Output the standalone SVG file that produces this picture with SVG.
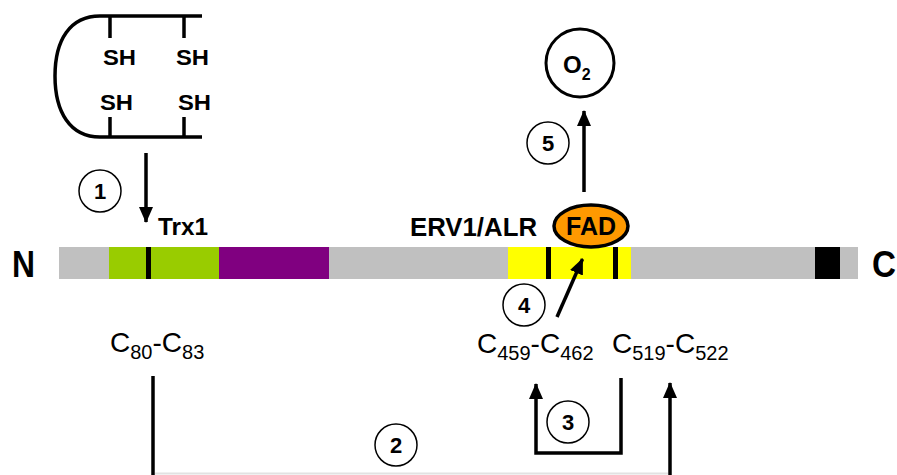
<svg xmlns="http://www.w3.org/2000/svg" width="897" height="475" viewBox="0 0 897 475">
<defs>
<style>
.t{font-family:"Liberation Sans",Arial,sans-serif;fill:#000}
.b{font-weight:bold}
.ln{stroke:#000;stroke-width:3.5;fill:none}
.num{fill:#fff;stroke:#000;stroke-width:1.5}
.nt{font-family:"Liberation Sans",Arial,sans-serif;font-weight:bold;font-size:22px;text-anchor:middle}
.sh{font-family:"Liberation Sans",Arial,sans-serif;font-weight:bold;font-size:22px}
.c{font-family:"Liberation Sans",Arial,sans-serif;font-size:28px}
.s{font-size:20px}
</style>
<marker id="ah" markerUnits="userSpaceOnUse" markerWidth="16" markerHeight="14" refX="15" refY="7" orient="auto">
<path d="M0,0 L16,7 L0,14 z" fill="#000"/>
</marker>
</defs>
<rect width="897" height="475" fill="#fff"/>

<g id="substrate">
<path class="ln" d="M202,16 H100 C70,16 55,40 55,76 C55,112 70,137 100,137 H202"/>
<line class="ln" x1="110" y1="16" x2="110" y2="38"/>
<line class="ln" x1="184" y1="16" x2="184" y2="38"/>
<line class="ln" x1="110" y1="117" x2="110" y2="137"/>
<line class="ln" x1="184" y1="117" x2="184" y2="137"/>
<text class="sh" x="103" y="65" textLength="33" lengthAdjust="spacingAndGlyphs">SH</text>
<text class="sh" x="176" y="65" textLength="33" lengthAdjust="spacingAndGlyphs">SH</text>
<text class="sh" x="100" y="110" textLength="33" lengthAdjust="spacingAndGlyphs">SH</text>
<text class="sh" x="178" y="110" textLength="33" lengthAdjust="spacingAndGlyphs">SH</text>
</g>

<g id="protein">
<rect x="59" y="247" width="799" height="32" fill="#C0C0C0"/>
<rect x="109" y="247" width="110" height="32" fill="#99CC00"/>
<rect x="219" y="247" width="110" height="32" fill="#800080"/>
<rect x="508" y="247" width="123" height="32" fill="#FFFF00"/>
<rect x="815" y="247" width="25" height="32" fill="#000"/>
<rect x="146" y="247" width="5" height="32" fill="#000"/>
<rect x="546" y="247" width="5" height="32" fill="#000"/>
<rect x="613" y="247" width="5" height="32" fill="#000"/>
<text class="t b" x="12" y="277" font-size="37" textLength="23" lengthAdjust="spacingAndGlyphs">N</text>
<text class="t b" x="872" y="277" font-size="37" textLength="24" lengthAdjust="spacingAndGlyphs">C</text>
<text class="t b" x="158" y="235" font-size="24" textLength="50" lengthAdjust="spacingAndGlyphs">Trx1</text>
<text class="t b" x="410" y="236" font-size="25" textLength="127" lengthAdjust="spacingAndGlyphs">ERV1/ALR</text>
</g>

<g id="fad">
<ellipse cx="591" cy="226" rx="37" ry="21" fill="#FF9900" stroke="#000" stroke-width="3.5"/>
<text class="t b" x="591" y="235" font-size="25" text-anchor="middle">FAD</text>
</g>

<g id="o2">
<circle cx="580" cy="63" r="34" fill="#fff" stroke="#000" stroke-width="3"/>
<text class="t b" x="563" y="73" font-size="24">O<tspan font-size="16" dy="7">2</tspan></text>
</g>

<g id="labels">
<text class="t c" x="110" y="352">C<tspan class="s" dy="7">80</tspan><tspan dy="-7">-C</tspan><tspan class="s" dy="7">83</tspan></text>
<text class="t c" x="477" y="353">C<tspan class="s" dy="7">459</tspan><tspan dy="-7">-C</tspan><tspan class="s" dy="7">462</tspan></text>
<text class="t c" x="612" y="353">C<tspan class="s" dy="7">519</tspan><tspan dy="-7">-C</tspan><tspan class="s" dy="7">522</tspan></text>
</g>

<g id="connectors">
<line class="ln" x1="146" y1="153" x2="146" y2="222" marker-end="url(#ah)"/>
<line class="ln" x1="584" y1="192" x2="584" y2="111" marker-end="url(#ah)"/>
<line class="ln" x1="557" y1="317" x2="582.5" y2="259" marker-end="url(#ah)"/>
<path class="ln" d="M621,378 V453 H536 V384" marker-end="url(#ah)"/>
<line class="ln" x1="153" y1="376" x2="153" y2="475"/>
<line class="ln" x1="670" y1="475" x2="670" y2="383" marker-end="url(#ah)"/>
<line x1="155" y1="473.5" x2="668" y2="473.5" stroke="#e2e2e2" stroke-width="2"/>
</g>

<g id="steps">
<circle class="num" cx="100" cy="191" r="21"/><text class="nt" x="100" y="199">1</text>
<circle class="num" cx="396" cy="445" r="21"/><text class="nt" x="396" y="453">2</text>
<circle class="num" cx="568" cy="422" r="21"/><text class="nt" x="568" y="430">3</text>
<circle class="num" cx="524" cy="305" r="21"/><text class="nt" x="524" y="313">4</text>
<circle class="num" cx="548" cy="143" r="21"/><text class="nt" x="548" y="151">5</text>
</g>
</svg>
